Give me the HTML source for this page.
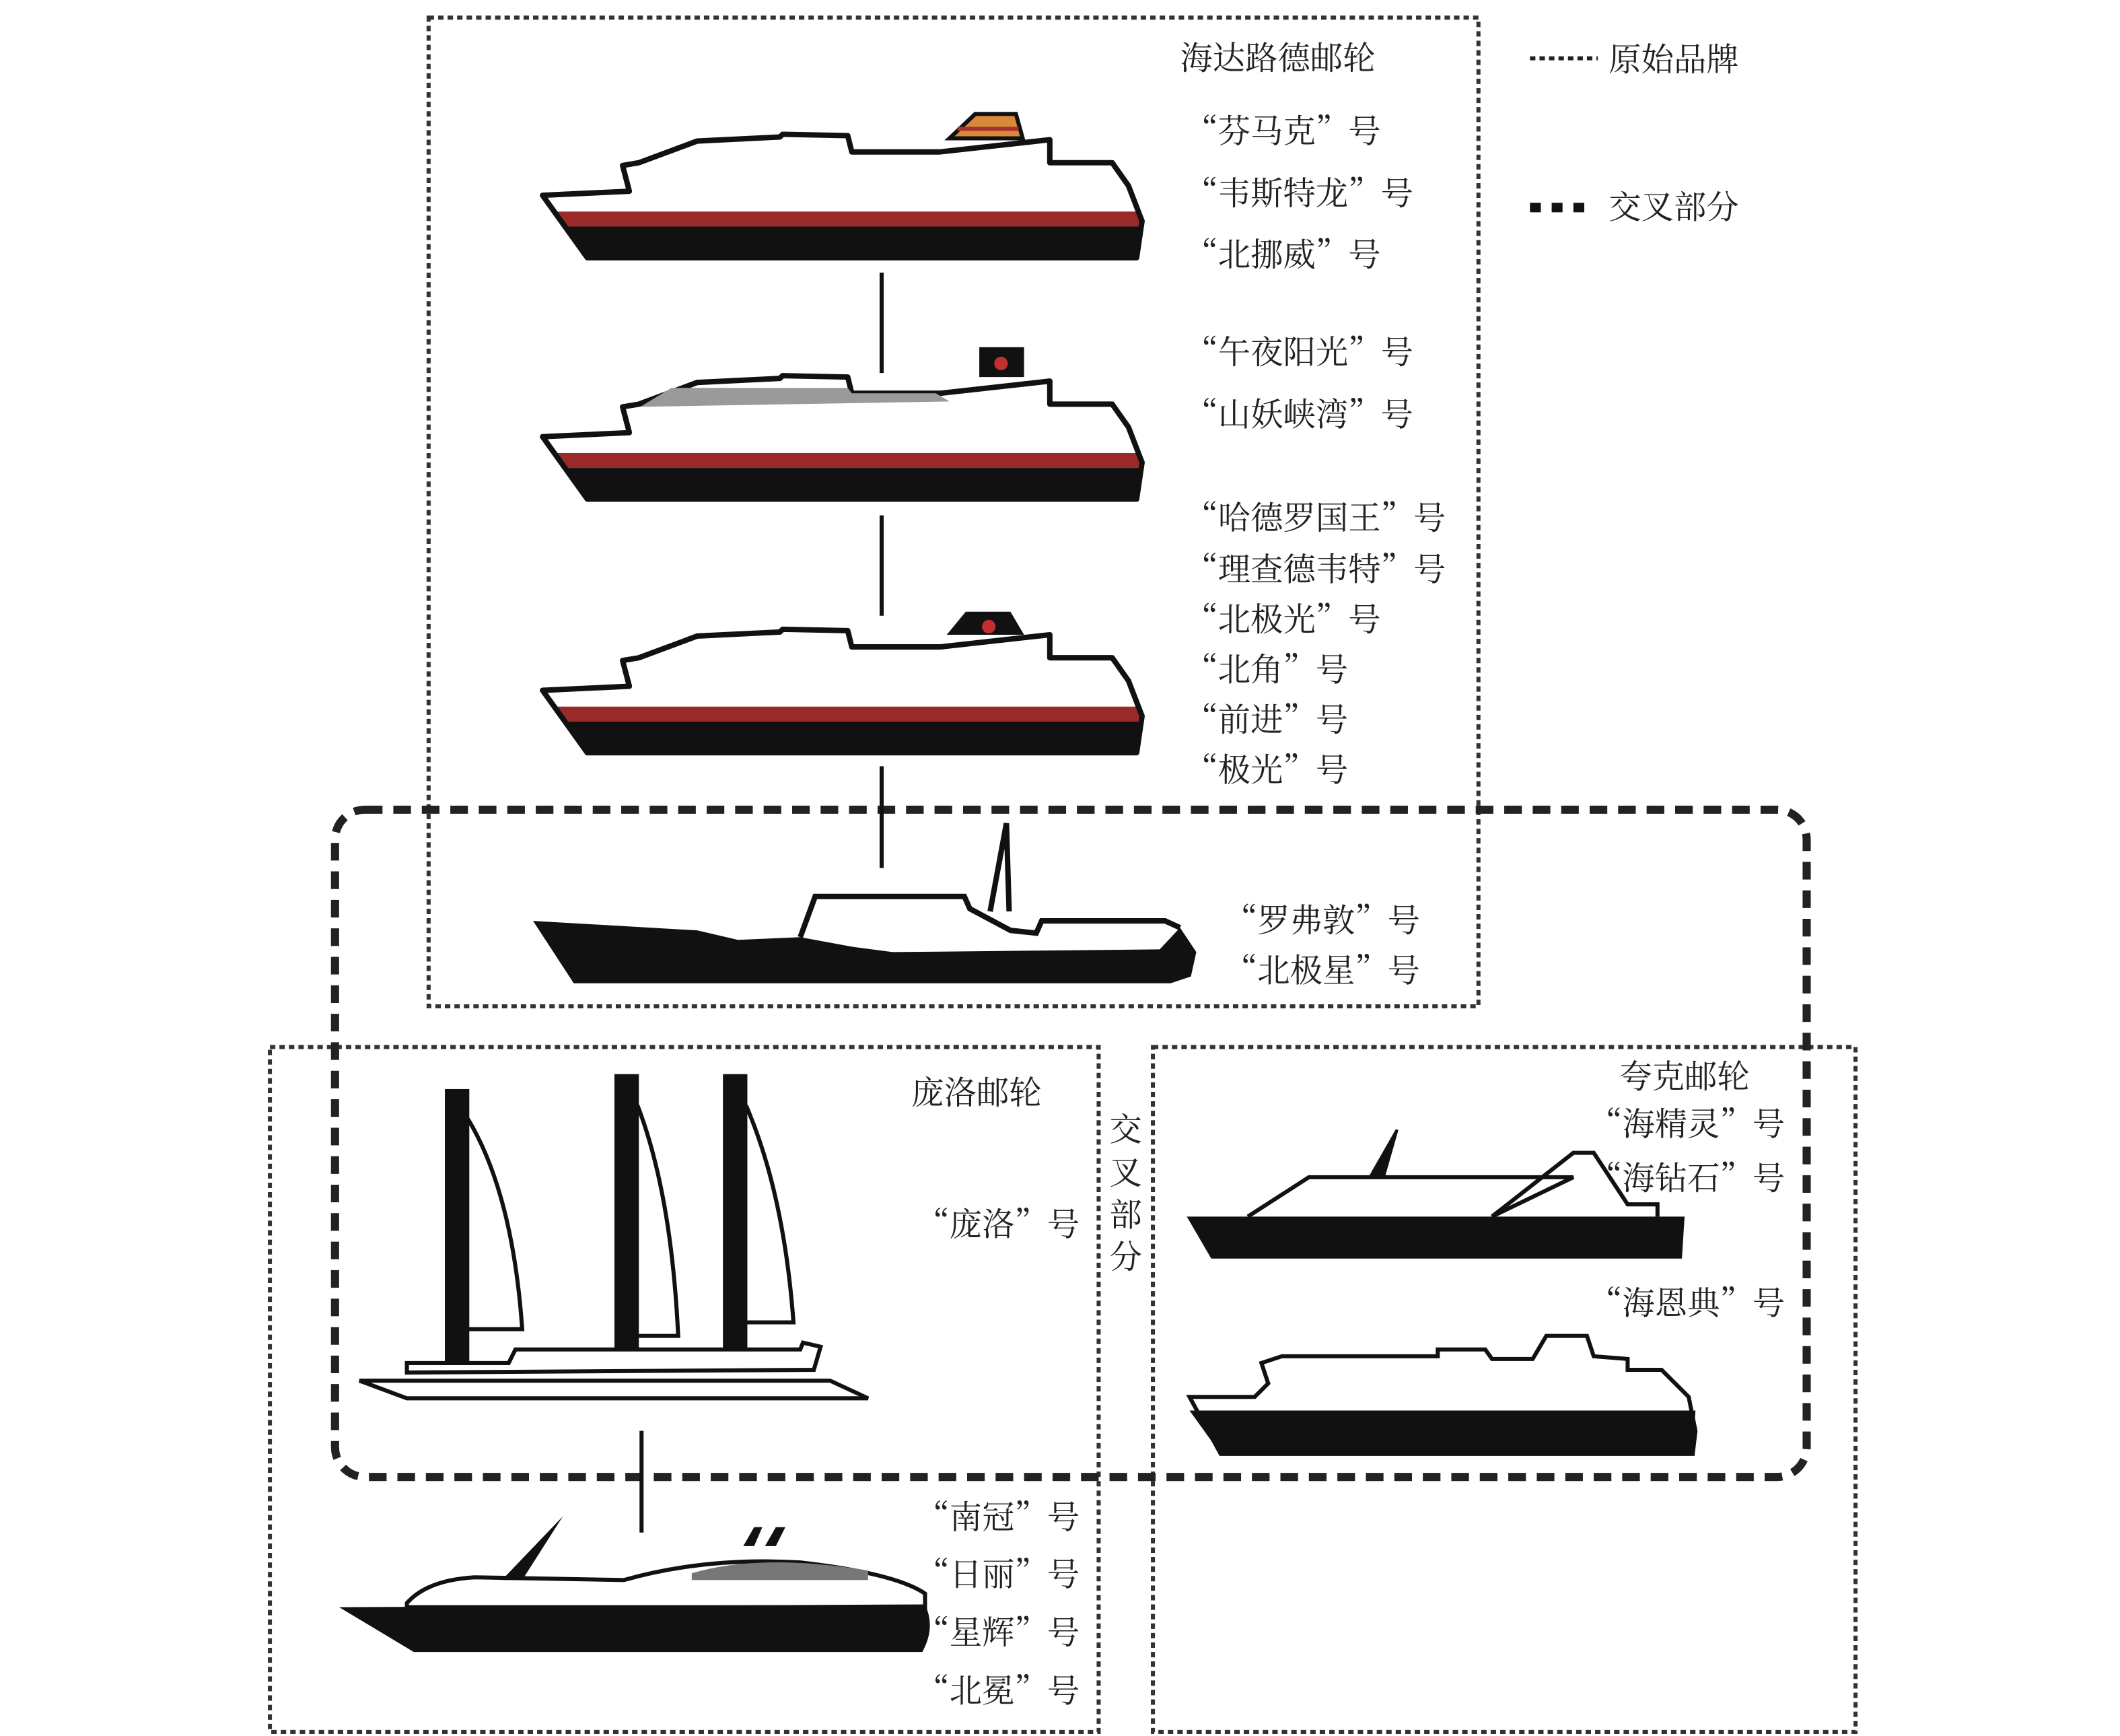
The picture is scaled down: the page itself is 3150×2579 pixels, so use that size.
<!DOCTYPE html>
<html><head><meta charset="utf-8"><style>
html,body{margin:0;padding:0;background:#fff;}
svg{display:block;}
text{font-family:"Noto Serif CJK SC","Liberation Serif",serif;font-size:24px;fill:#222;}
</style></head><body>
<svg width="3150" height="2579" viewBox="0 0 1563 1280" preserveAspectRatio="none" xmlns="http://www.w3.org/2000/svg">
<defs>
<g id="ship">
  <clipPath id="sc"><path d="M400,144 L464,141 L459,122 L471,120 L514,104 L575,101 L577,99 L625,100 L628,112 L693,112 L774,103 L774,120 L820,120 L832,137 L842,163 L838,190 L433,190 Z"/></clipPath>
  <path d="M400,144 L464,141 L459,122 L471,120 L514,104 L575,101 L577,99 L625,100 L628,112 L693,112 L774,103 L774,120 L820,120 L832,137 L842,163 L838,190 L433,190 Z" fill="#fff"/>
  <g clip-path="url(#sc)">
    <rect x="390" y="156" width="460" height="11" fill="#9a2a2a"/>
    <rect x="390" y="167" width="460" height="25" fill="#111"/>
  </g>
  <path d="M400,144 L464,141 L459,122 L471,120 L514,104 L575,101 L577,99 L625,100 L628,112 L693,112 L774,103 L774,120 L820,120 L832,137 L842,163 L838,190 L433,190 Z" fill="none" stroke="#111" stroke-width="4" stroke-linejoin="round"/>
</g>
</defs>

<rect x="316" y="13" width="774" height="729" fill="none" stroke="#333" stroke-width="3" stroke-dasharray="4 3"/>
<rect x="199" y="772" width="611" height="505" fill="none" stroke="#333" stroke-width="3" stroke-dasharray="4 3"/>
<rect x="850" y="772" width="518" height="505" fill="none" stroke="#333" stroke-width="3" stroke-dasharray="4 3"/>
<rect x="247" y="597" width="1085" height="492" rx="22" fill="none" stroke="#222" stroke-width="6" stroke-dasharray="13 8"/>

<line x1="1128" y1="43" x2="1178" y2="43" stroke="#222" stroke-width="3" stroke-dasharray="4 3"/>
<text x="1186" y="52">原始品牌</text>
<line x1="1128" y1="153" x2="1176" y2="153" stroke="#111" stroke-width="7" stroke-dasharray="8 8"/>
<text x="1186" y="161">交叉部分</text>

<text x="870" y="51">海达路德邮轮</text>
<text x="874" y="105">“芬马克”号</text>
<text x="874" y="151">“韦斯特龙”号</text>
<text x="874" y="196">“北挪威”号</text>
<text x="874" y="268">“午夜阳光”号</text>
<text x="874" y="314">“山妖峡湾”号</text>
<text x="874" y="390">“哈德罗国王”号</text>
<text x="874" y="428">“理查德韦特”号</text>
<text x="874" y="465">“北极光”号</text>
<text x="874" y="502">“北角”号</text>
<text x="874" y="539">“前进”号</text>
<text x="874" y="576">“极光”号</text>
<text x="903" y="687">“罗弗敦”号</text>
<text x="903" y="724">“北极星”号</text>

<use href="#ship"/>
<path d="M700,102 L719,84 L749,84 L754,102 Z" fill="#d88a3a" stroke="#111" stroke-width="3"/>
<path d="M706,95 L751,95" stroke="#a83030" stroke-width="3"/>
<use href="#ship" transform="translate(0,178)"/>
<path d="M472,300 L495,286 L625,286 L628,290 L690,290 L700,296 L470,300Z" fill="#9a9a9a"/>
<rect x="722" y="256" width="33" height="22" fill="#111"/>
<circle cx="738" cy="268" r="5" fill="#c03030"/>
<use href="#ship" transform="translate(0,365)"/>
<path d="M698,468 L712,451 L745,451 L755,468 Z" fill="#111"/>
<circle cx="729" cy="462" r="5" fill="#c03030"/>

<g stroke="#111" stroke-width="3">
<line x1="650" y1="201" x2="650" y2="275"/>
<line x1="650" y1="380" x2="650" y2="454"/>
<line x1="650" y1="565" x2="650" y2="640"/>
<line x1="473" y1="1055" x2="473" y2="1130"/>
</g>

<path d="M590,691 L601,661 L711,661 L715,670 L745,686 L764,688 L768,679 L859,679 L870,684" fill="none" stroke="#111" stroke-width="4"/>
<path d="M730,672 L742,607 L744,672" fill="none" stroke="#111" stroke-width="4"/>
<path d="M393,679 L514,686 L544,693 L590,691 L628,698 L658,702 L855,700 L870,684 L882,702 L878,720 L863,725 L423,725 Z" fill="#111"/>

<text x="672" y="814">庞洛邮轮</text>
<text x="676" y="911">“庞洛”号</text>
<text x="818" y="841">交</text>
<text x="818" y="873">叉</text>
<text x="818" y="904">部</text>
<text x="818" y="935">分</text>
<g fill="#111">
<rect x="328" y="803" width="18" height="205"/>
<rect x="453" y="792" width="18" height="210"/>
<rect x="533" y="792" width="18" height="210"/>
</g>
<g fill="none" stroke="#111" stroke-width="3">
<path d="M345,825 Q378,880 385,980 L345,980"/>
<path d="M470,815 Q495,880 500,985 L470,985"/>
<path d="M550,815 Q578,880 585,975 L550,975"/>
</g>
<path d="M300,1005 L375,1005 L380,995 L590,995 L592,990 L605,993 L600,1010 L300,1012Z" fill="#fff" stroke="#111" stroke-width="3"/>
<path d="M265,1018 L612,1018 L640,1031 L300,1031 Z" fill="#fff" stroke="#111" stroke-width="3"/>

<text x="676" y="1127">“南冠”号</text>
<text x="676" y="1169">“日丽”号</text>
<text x="676" y="1212">“星辉”号</text>
<text x="676" y="1255">“北冕”号</text>
<path d="M300,1182 Q315,1165 350,1163 L460,1165 Q520,1148 590,1152 Q660,1160 682,1175 L682,1185 L300,1185 Z" fill="#fff" stroke="#111" stroke-width="3"/>
<path d="M510,1160 Q560,1145 640,1158 L640,1165 L510,1165Z" fill="#777"/>
<path d="M370,1165 L415,1118 L385,1165" fill="#111"/>
<path d="M548,1140 L556,1126 L562,1126 L556,1140Z M564,1140 L572,1126 L579,1126 L572,1140Z" fill="#111"/>
<path d="M250,1185 L682,1183 Q690,1200 680,1218 L305,1218 Z" fill="#111"/>

<text x="1194" y="802">夸克邮轮</text>
<text x="1172" y="837">“海精灵”号</text>
<text x="1172" y="877">“海钻石”号</text>
<text x="1172" y="969">“海恩典”号</text>
<path d="M920,897 L965,868 L1160,868 L1100,897 M1100,897 L1160,850 L1175,850 L1200,888 L1222,888 L1222,897" fill="none" stroke="#111" stroke-width="3"/>
<path d="M1010,868 L1030,833 L1020,868" fill="#111" stroke="#111" stroke-width="2"/>
<path d="M875,897 L1242,897 L1240,928 L893,928 Z" fill="#111"/>
<path d="M877,1030 L925,1030 L935,1020 L930,1005 L945,1000 L1060,1000 L1060,995 L1095,995 L1100,1002 L1130,1002 L1140,985 L1170,985 L1175,1000 L1200,1002 L1200,1010 L1225,1010 L1245,1030 L1250,1055 L1248,1072 L900,1072 Z" fill="#fff" stroke="#111" stroke-width="3"/>
<path d="M877,1040 L1250,1040 L1248,1072 L900,1072 Z" fill="#111"/>
</svg>
</body></html>
